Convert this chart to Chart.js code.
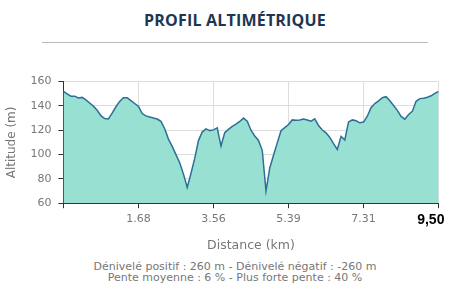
<!DOCTYPE html>
<html>
<head>
<meta charset="utf-8">
<script src="https://cdn.jsdelivr.net/npm/chart.js@4/dist/chart.umd.min.js"></script>
<style>
  body { margin: 0; width: 450px; height: 297px; background: #fff; overflow: hidden; position: relative; }
  h2 { position: absolute; top: 9px; left: 0; width: 470px; margin: 0; text-align: center;
       font: bold 16px "Open Sans", sans-serif; color: #1d3652; letter-spacing: 0.2px; }
  .rule { position: absolute; top: 42px; left: 42px; width: 386px; height: 1px; background: #bbb; }
  .chart-wrap { position: absolute; left: 0; top: 68px; width: 464px; height: 189px; }
  .stats { position: absolute; top: 261px; left: 0; width: 470px; text-align: center;
           font: 11px "DejaVu Sans", sans-serif; color: #777; line-height: 11px; }
</style>
</head>
<body>
<h2>PROFIL ALTIMÉTRIQUE</h2>
<div class="rule"></div>
<div class="chart-wrap"><canvas id="profil-chart"></canvas></div>
<div class="stats">Dénivelé positif : 260 m - Dénivelé négatif : -260 m<br>Pente moyenne : 6 % - Plus forte pente : 40 %</div>
<script>
// altitude (m) sampled at regular steps along the route
const altitudes = [
  152, 150, 148, 148, 146.5, 147, 145, 142.4, 139.8, 136.4,
  132, 129.6, 129.3, 134, 139.3, 143.7, 146.8, 146.7, 144.4, 142,
  139.7, 133.7, 131.8, 130.9, 130, 129.2, 127.3, 121.2, 112.7, 106.7,
  99.9, 93.3, 83.9, 73, 84.4, 96.8, 111.5, 118.5, 121.1, 119.7,
  120.3, 122, 107, 118, 120.7, 123.2, 125, 127.2, 130, 127.5,
  120, 115.3, 111.6, 103.5, 70, 89, 99.4, 109.6, 119.6, 122.1,
  124.7, 128.5, 128.2, 128.4, 129.2, 128.4, 127.5, 129.4, 123.9, 120.2,
  117.9, 114.1, 109, 104.2, 115, 112, 126.8, 128.5, 127.8, 126.1,
  126.7, 131.5, 138.6, 141.9, 144.1, 146.7, 147.6, 144.2, 140.4, 136.3,
  131.4, 129.1, 133, 135.5, 143.8, 146, 146.3, 147.2, 148.3, 150.3,
  152
];
// last label is shifted left in the original, hence the trailing spaces
const distanceTicks = ['', '1.68', '3.56', '5.39', '7.31', '9,50\u00a0\u00a0\u00a0\u00a0'];
const altitudeTicks = [60, 80, 100, 120, 140, 160];

document.addEventListener('DOMContentLoaded', function() {
  const ctx = document.getElementById('profil-chart');
  const lastIndex = altitudes.length - 1;
  const tickStep = lastIndex / (distanceTicks.length - 1);

  new Chart(ctx, {
    type: 'line',
    data: {
      datasets: [{
        data: altitudes.map((alt, i) => ({ x: i, y: alt })),
        borderColor: '#2e6f96',
        backgroundColor: '#97e0d2',
        borderWidth: 1.5,
        pointRadius: 0,
        tension: 0,
        fill: 'start'
      }]
    },
    options: {
      responsive: true,
      maintainAspectRatio: false,
      animation: false,
      layout: { padding: { top: 6, right: 22, left: 1 } },
      plugins: { legend: { display: false }, tooltip: { enabled: false } },
      scales: {
        x: {
          type: 'linear',
          min: 0,
          max: lastIndex,
          afterBuildTicks: function(axis) {
            axis.ticks = distanceTicks.map((_, k) => ({ value: k * tickStep }));
          },
          ticks: {
            autoSkip: false,
            maxRotation: 0,
            padding: 4,
            callback: function(value, index) { return distanceTicks[index]; },
            color: (c) => c.index === distanceTicks.length - 1 ? '#000' : '#777',
            font: (c) => c.index === distanceTicks.length - 1
              ? { family: 'Liberation Sans', size: 14, weight: 'bold' }
              : { family: 'DejaVu Sans', size: 11 }
          },
          grid: { color: '#ddd', tickColor: '#333', tickLength: 5 },
          border: { color: '#333' },
          title: {
            display: true,
            text: 'Distance (km)',
            color: '#777',
            font: { family: 'DejaVu Sans', size: 12.5 },
            padding: { top: 5 }
          }
        },
        y: {
          min: 60,
          max: 160,
          afterBuildTicks: function(axis) {
            axis.ticks = altitudeTicks.map(v => ({ value: v }));
          },
          ticks: { color: '#777', font: { family: 'DejaVu Sans', size: 11 }, padding: 7 },
          grid: { color: '#ddd', tickColor: '#333', tickLength: 5 },
          border: { color: '#333' },
          title: {
            display: true,
            text: 'Altitude (m)',
            color: '#777',
            font: { family: 'DejaVu Sans', size: 12 }
          }
        }
      }
    }
  });
});
</script>
</body>
</html>
